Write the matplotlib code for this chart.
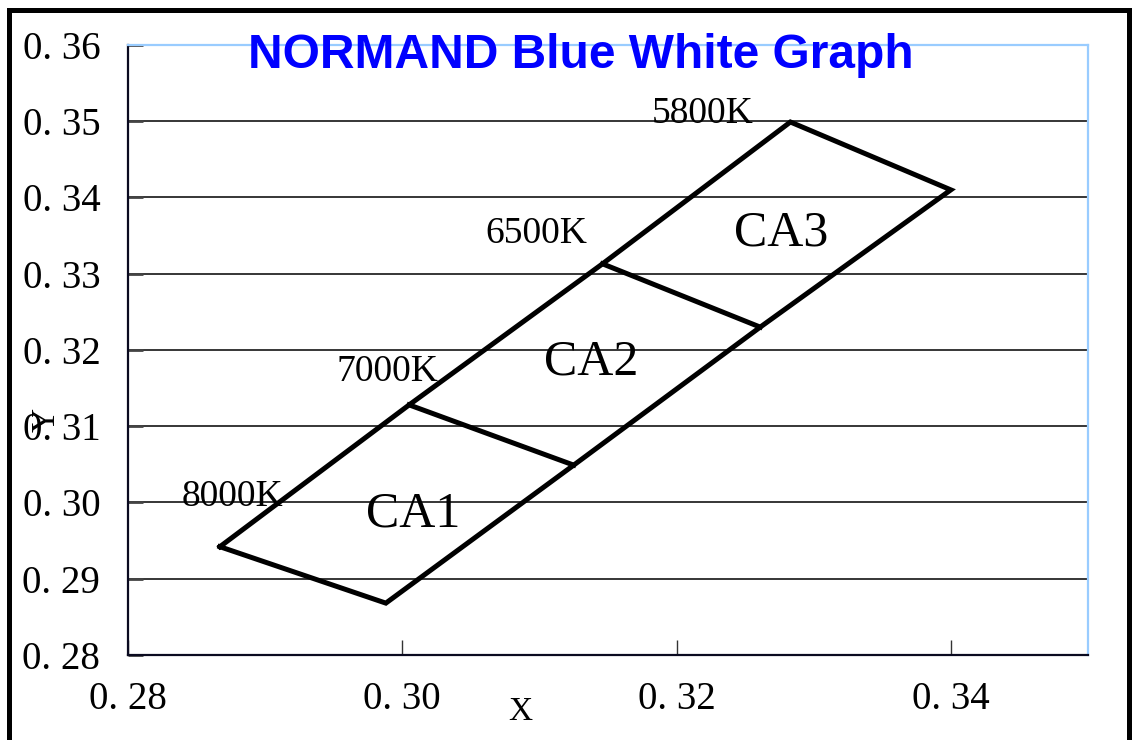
import matplotlib.pyplot as plt
from matplotlib.patches import Rectangle
from matplotlib.ticker import FixedLocator, FixedFormatter

# corners of the bin outline (CIE x, y), going round
outline_x = [0.2867, 0.2988, 0.3125, 0.3261, 0.3400, 0.3283, 0.3146, 0.3005, 0.2867]
outline_y = [0.2942, 0.2868, 0.3049, 0.3230, 0.3410, 0.3499, 0.3313, 0.3128, 0.2942]

# divider lines between bins
div1_x = [0.3005, 0.3125]
div1_y = [0.3128, 0.3049]
div2_x = [0.3146, 0.3261]
div2_y = [0.3313, 0.3230]

bins = ["CA1", "CA2", "CA3"]
bins_x = [0.3008, 0.3138, 0.3276]
bins_y = [0.2984, 0.3184, 0.3353]

temps = ["8000K", "7000K", "6500K", "5800K"]
temps_x = [0.2876, 0.2989, 0.3098, 0.3219]
temps_y = [0.3007, 0.3171, 0.3353, 0.3510]

xticks = [0.28, 0.30, 0.32, 0.34]
xtick_labels = ["0. 28", "0. 30", "0. 32", "0. 34"]
yticks = [0.28, 0.29, 0.30, 0.31, 0.32, 0.33, 0.34, 0.35, 0.36]
ytick_labels = ["0. 28", "0. 29", "0. 30", "0. 31", "0. 32", "0. 33", "0. 34", "0. 35", "0. 36"]

serif = "Liberation Serif"

fig = plt.figure(figsize=(11.32, 7.40), dpi=100)
ax = fig.add_axes([0.1131, 0.1149, 0.848, 0.8243])

ax.set_xlim(0.28, 0.35)
ax.set_ylim(0.28, 0.36)

ax.grid(True, axis="y", color="black", linewidth=1.1)
ax.set_axisbelow(True)

ax.plot(outline_x, outline_y, color="black", linewidth=3.6, solid_joinstyle="miter")
ax.plot(div1_x, div1_y, color="black", linewidth=3.6)
ax.plot(div2_x, div2_y, color="black", linewidth=3.6)

for name, x, y in zip(bins, bins_x, bins_y):
    ax.text(x, y, name, fontsize=36, family=serif, ha="center", va="center")
for name, x, y in zip(temps, temps_x, temps_y):
    ax.text(x, y, name, fontsize=27, family=serif, ha="center", va="center")

ax.xaxis.set_major_locator(FixedLocator(xticks))
ax.xaxis.set_major_formatter(FixedFormatter(xtick_labels))
ax.yaxis.set_major_locator(FixedLocator(yticks))
ax.yaxis.set_major_formatter(FixedFormatter(ytick_labels))
ax.tick_params(axis="x", direction="in", length=11, width=1, color="#333333", pad=19)
ax.tick_params(axis="y", direction="in", length=11, width=2, color="#444444", pad=20)
for lab in ax.get_xticklabels() + ax.get_yticklabels():
    lab.set_fontfamily(serif)
    lab.set_fontsize(28)

for side in ["left", "bottom"]:
    ax.spines[side].set_color("#0a0a20")
    ax.spines[side].set_linewidth(1.6)
for side in ["top", "right"]:
    ax.spines[side].set_color("#99ccff")
    ax.spines[side].set_linewidth(1.6)

fig.text(520 / 1132, 1 - 712 / 740, "X", fontsize=24, family=serif, ha="center", va="center")
fig.text(46 / 1132, 1 - 420 / 740, "Y", fontsize=24, family=serif, ha="center", va="center",
         rotation=90)

fig.text(581 / 1132, 1 - 56 / 740, "NORMAND Blue White Graph", fontsize=34.5,
         family="Liberation Sans", weight="bold", color="#0000ff", ha="center", va="center")

# thick frame round the whole chart (runs off the bottom)
fig.patches.append(Rectangle((9 / 1132, -0.05), 1119.5 / 1132, 1 - 9.5 / 740 + 0.05,
                             transform=fig.transFigure, fill=False, edgecolor="black",
                             linewidth=3.6))

fig.savefig("out.png", dpi=100)
